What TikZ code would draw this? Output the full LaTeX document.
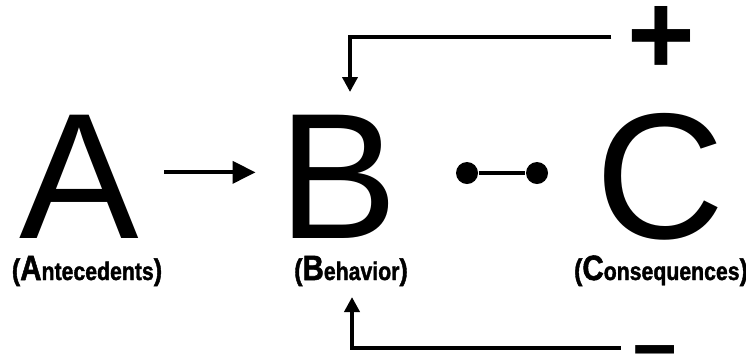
\documentclass[tikz,border=0pt]{standalone}
\usepackage{fontspec}
\setmainfont{Liberation Sans}
\usetikzlibrary{positioning,arrows.meta}
\newcommand{\abclbl}[2]{\scalebox{0.84}[1]{\addfontfeatures{FakeBold=1.6}%
  {\fontsize{8.5}{9}\selectfont(}{\fontsize{10}{10}\selectfont #1}{\fontsize{7.2}{8}\selectfont #2}{\fontsize{8.5}{9}\selectfont)}}}

\begin{document}
\begin{tikzpicture}[
    >=Triangle,
    big/.style={font=\fontsize{51}{51}\selectfont, inner sep=0pt, anchor=base},
    lbl/.style={font=\bfseries, inner sep=0pt, anchor=base},
    sign/.style={font=\bfseries\fontsize{33}{33}\selectfont, inner sep=0pt, anchor=base},
    dot/.style={circle, fill, inner sep=0pt, minimum size=2.2mm},
    fb/.style={line width=1.4pt, -{Triangle[length=1.5mm, width=1.5mm]}}
  ]
    \useasboundingbox (0,0) rectangle (7.46,3.54);

    % A - B - C
    \node[big] (A) at (0.79,1.16) {A};
    \node[big] (B) at (3.38,1.16) {B};
    \node[big] (C) at (6.60,1.16) {C};

    \node[lbl] (Alb) at (0.87,0.74) {\abclbl{A}{ntecedents}};
    \node[lbl] (Blb) at (3.51,0.74) {\abclbl{B}{ehavior}};
    \node[lbl] (Clb) at (6.61,0.74) {\abclbl{C}{onsequences}};

    % A -> B
    \draw[line width=1.1pt, -{Triangle[length=2.3mm, width=2.2mm]}, shorten <=2.5mm, shorten >=2.2mm] ([yshift=0.4mm]A.east) -- ([yshift=0.4mm]B.west);

    % B o--o C
    \node[dot] (dl) at (4.67,1.81) {};
    \node[dot] (dr) at (5.37,1.81) {};
    \draw[line width=1.3pt] (dl) -- (dr);

    % feedback
    \node[sign] (plus) at (6.61,2.80) {+};
    \node[sign, font=\bfseries\fontsize{22}{22}\selectfont] (minus) at (6.55,-0.21) {−};
    \draw[fb] ([xshift=-1.5mm]plus.west |- 6.61,3.17) -| ([xshift=1.2mm]B.north |- 3.50,2.62);
    \draw[fb] ([xshift=-1.1mm]minus.west |- 6.55,0.06) -| ([xshift=1.4mm]B.north |- 3.52,0.57);
\end{tikzpicture}
\end{document}
